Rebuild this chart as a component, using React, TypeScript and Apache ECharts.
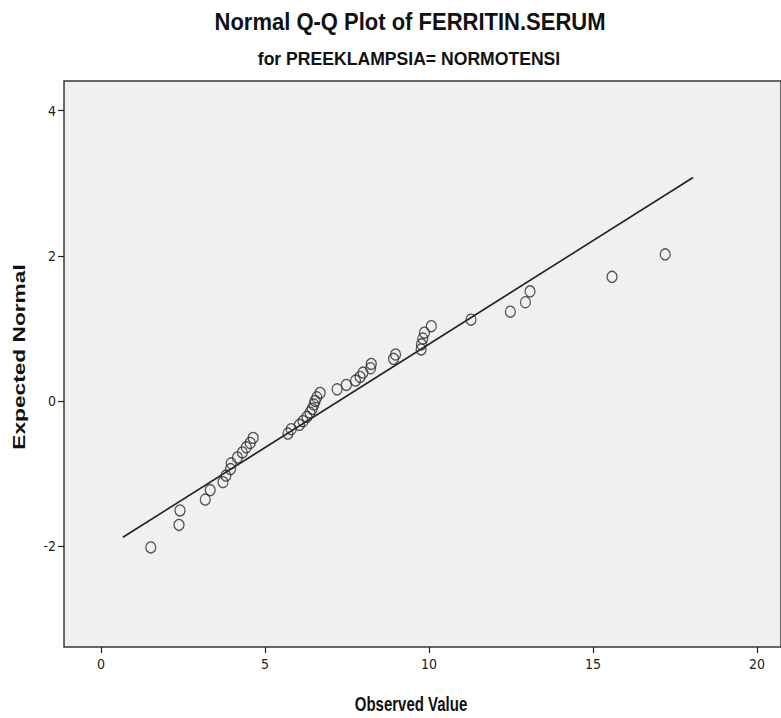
import React, { useEffect, useRef } from "react";
import * as echarts from "echarts";

const observedValues = [
  1.52, 2.38, 2.41, 3.18, 3.33, 3.72, 3.81, 3.95, 3.97, 4.16, 4.31, 4.43, 4.55, 4.64,
  5.70, 5.80, 6.05, 6.16, 6.28, 6.37, 6.44, 6.49, 6.53, 6.58, 6.68,
  7.20, 7.48, 7.76, 7.90, 7.99, 8.22, 8.24, 8.92, 8.98, 9.76, 9.77, 9.81, 9.86, 10.07,
  11.28, 12.48, 12.94, 13.08, 15.58, 17.20,
];
const expectedNormal = [
  -2.02, -1.71, -1.51, -1.36, -1.23, -1.12, -1.03, -0.94, -0.86, -0.78, -0.71, -0.64, -0.58, -0.51,
  -0.45, -0.39, -0.33, -0.28, -0.22, -0.16, -0.11, -0.05, 0.0, 0.05, 0.11,
  0.16, 0.22, 0.28, 0.33, 0.39, 0.45, 0.51, 0.58, 0.64, 0.71, 0.78, 0.86, 0.94, 1.03,
  1.12, 1.23, 1.36, 1.51, 1.71, 2.02,
];
// Reference line end points
const lineObserved = [0.67, 18.05];
const lineExpected = [-1.88, 3.08];

const xTicks = [0, 5, 10, 15, 20];
const yTicks = [-2, 0, 2, 4];

const titleText = "Normal Q-Q Plot of FERRITIN.SERUM";
const subtitleText = "for PREEKLAMPSIA= NORMOTENSI";
const xAxisTitle = "Observed Value";
const yAxisTitle = "Expected Normal";

const FONT = "'Liberation Sans', Arial, sans-serif";
const NARROW = "'Liberation Sans Narrow', 'DejaVu Sans Condensed', 'Liberation Sans', sans-serif";

export default function App() {
  const ref = useRef<HTMLDivElement>(null);

  useEffect(() => {
    document.body.style.margin = "0";
    if (!ref.current) return;
    const chart = echarts.init(ref.current, undefined, { renderer: "svg" });

    const points = observedValues.map((x, i) => [x, expectedNormal[i]]);
    const linePts = lineObserved.map((x, i) => [x, lineExpected[i]]);

    chart.setOption({
      animation: false,
      backgroundColor: "#ffffff",
      grid: {
        left: 64,
        top: 81,
        right: -1,
        bottom: 71,
        show: true,
        backgroundColor: "#f0f0f0",
        borderColor: "#3a3a3a",
        borderWidth: 1.5,
      },
      xAxis: {
        type: "value",
        min: -1.126,
        max: 20.73,
        axisLine: { show: false, onZero: false },
        splitLine: { show: false },
        axisTick: {
          show: true,
          customValues: xTicks,
          length: 6,
          inside: false,
          lineStyle: { color: "#222", width: 1.2 },
        },
        axisLabel: {
          customValues: xTicks,
          color: "#222",
          fontSize: 14,
          fontFamily: NARROW,
          margin: 10,
        },
      },
      yAxis: {
        type: "value",
        min: -3.393,
        max: 4.41,
        axisLine: { show: false, onZero: false },
        splitLine: { show: false },
        axisTick: {
          show: true,
          customValues: yTicks,
          length: 6,
          inside: false,
          lineStyle: { color: "#222", width: 1.2 },
        },
        axisLabel: {
          customValues: yTicks,
          color: "#222",
          fontSize: 14,
          fontFamily: NARROW,
          margin: 8,
        },
      },
      graphic: [
        {
          type: "text",
          x: 410,
          y: 22,
          scaleX: 1.1,
          scaleY: 1.22,
          style: {
            text: titleText,
            font: `bold 20px ${FONT}`,
            fill: "#111",
            textAlign: "center",
            textVerticalAlign: "middle",
          },
        },
        {
          type: "text",
          x: 409,
          y: 58,
          scaleX: 1.1,
          scaleY: 1.2,
          style: {
            text: subtitleText,
            font: `bold 16px ${FONT}`,
            fill: "#111",
            textAlign: "center",
            textVerticalAlign: "middle",
          },
        },
        {
          type: "text",
          x: 411,
          y: 704,
          scaleY: 1.3,
          style: {
            text: xAxisTitle,
            font: `bold 15px ${FONT}`,
            fill: "#111",
            textAlign: "center",
            textVerticalAlign: "middle",
          },
        },
        {
          type: "text",
          x: 19,
          y: 357,
          rotation: Math.PI / 2,
          scaleX: 1.42,
          style: {
            text: yAxisTitle,
            font: `bold 16px ${FONT}`,
            fill: "#111",
            textAlign: "center",
            textVerticalAlign: "middle",
          },
        },
      ],
      series: [
        {
          type: "line",
          data: linePts,
          showSymbol: false,
          symbol: "none",
          lineStyle: { color: "#222", width: 1.6 },
          silent: true,
          z: 2,
        },
        {
          type: "scatter",
          data: points,
          symbol: "circle",
          symbolSize: [10, 11],
          itemStyle: {
            color: "transparent",
            borderColor: "#2a2a2a",
            borderWidth: 1.3,
          },
          z: 3,
        },
      ],
    });

    return () => chart.dispose();
  }, []);

  return <div ref={ref} style={{ width: 781, height: 718 }} />;
}
